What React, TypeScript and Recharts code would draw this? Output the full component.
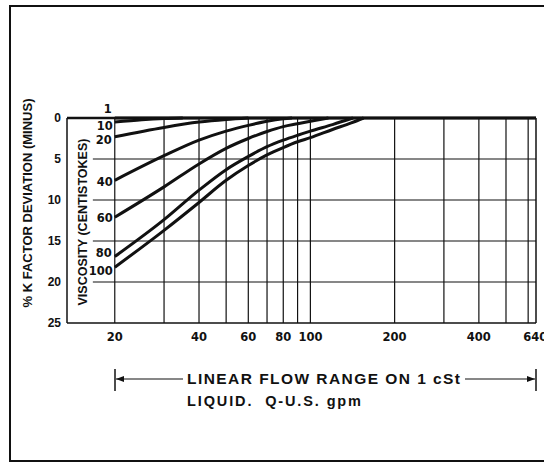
import React from "react";
import { LineChart, Line, XAxis, YAxis, ReferenceLine } from "recharts";

// ---- data ----
const flowTicks = [20, 40, 60, 80, 100, 200, 400, 640];
const flowGrid = [20, 30, 40, 50, 60, 70, 80, 90, 100, 200, 300, 400, 500, 600];
const deviationTicks = [0, 5, 10, 15, 20, 25];
const deviationGrid = [5, 10, 15, 20];

const visc1Flow = [20, 640];
const visc1Dev = [0, 0];
const visc10Flow = [20, 25, 30, 35];
const visc10Dev = [0.5, 0.22, 0.07, 0];
const visc20Flow = [20, 30, 40, 50, 60];
const visc20Dev = [2.3, 1.15, 0.5, 0.18, 0];
const visc40Flow = [20, 30, 40, 50, 60, 70, 80, 86];
const visc40Dev = [7.6, 4.6, 2.7, 1.6, 0.9, 0.4, 0.1, 0];
const visc60Flow = [20, 30, 40, 50, 60, 70, 80, 90, 100, 116];
const visc60Dev = [12.1, 8.4, 5.6, 3.7, 2.5, 1.65, 1.05, 0.7, 0.4, 0];
const visc80Flow = [20, 30, 40, 50, 60, 70, 80, 90, 100, 120, 142];
const visc80Dev = [16.9, 12.4, 8.8, 6.3, 4.7, 3.5, 2.7, 2.1, 1.6, 0.8, 0];
const visc100Flow = [20, 30, 40, 50, 60, 70, 80, 90, 100, 120, 140, 155];
const visc100Dev = [18.2, 13.7, 10.3, 7.6, 5.8, 4.5, 3.6, 2.9, 2.4, 1.4, 0.6, 0];

const seriesNames = ["1", "10", "20", "40", "60", "80", "100"];

const build = (f: number[], d: number[]) => f.map((q, i) => ({ q, dev: d[i] }));

const series = [
  { name: seriesNames[0], data: build(visc1Flow, visc1Dev), dx: -7, dy: -5, anchor: "middle" },
  { name: seriesNames[1], data: build(visc10Flow, visc10Dev), dx: -2, dy: 8, anchor: "end" },
  { name: seriesNames[2], data: build(visc20Flow, visc20Dev), dx: -3, dy: 7.5, anchor: "end" },
  { name: seriesNames[3], data: build(visc40Flow, visc40Dev), dx: -2, dy: 6, anchor: "end" },
  { name: seriesNames[4], data: build(visc60Flow, visc60Dev), dx: -2, dy: 5, anchor: "end" },
  { name: seriesNames[5], data: build(visc80Flow, visc80Dev), dx: -3, dy: 0, anchor: "end" },
  { name: seriesNames[6], data: build(visc100Flow, visc100Dev), dx: -2, dy: 8, anchor: "end" },
];

const INK = "#111";
const labelFont = "'DejaVu Sans', sans-serif";
const sansFont = "'Liberation Sans', Arial, sans-serif";

const makeLabel = (name: string, dx: number, dy: number, anchor: string) => (props: any) => {
  if (props.index !== 0) return null;
  return (
    <text
      key={`lbl-${name}`}
      x={props.x + dx}
      y={props.y + dy}
      textAnchor={anchor as any}
      fontFamily={labelFont}
      fontWeight="bold"
      fontSize={11.5}
      fill={INK}
    >
      {name}
    </text>
  );
};

export default function App() {
  return (
    <div style={{ position: "absolute", left: 0, top: 0, width: 544, height: 463, background: "#fff" }}>
      <LineChart
        width={544}
        height={463}
        margin={{ top: 118, right: 8, bottom: 120, left: 17 }}
      >
        <XAxis
          dataKey="q"
          type="number"
          scale="log"
          domain={[13.5, 640]}
          ticks={flowTicks}
          height={20}
          axisLine={{ stroke: INK, strokeWidth: 1.5 }}
          tickLine={false}
          tickMargin={4}
          tick={{ fill: INK, fontSize: 11.5, fontWeight: "bold", fontFamily: labelFont }}
          allowDuplicatedCategory={false}
        />
        <YAxis
          type="number"
          domain={[0, 25]}
          reversed
          ticks={deviationTicks}
          width={50}
          axisLine={{ stroke: INK, strokeWidth: 1.5 }}
          tickLine={false}
          tickMargin={0}
          tick={{ fill: INK, fontSize: 12, fontWeight: "bold", fontFamily: sansFont }}
        />
        {flowGrid.map((q) => (
          <ReferenceLine key={`vx-${q}`} x={q} stroke={INK} strokeWidth={1.2} />
        ))}
        <ReferenceLine x={640} stroke={INK} strokeWidth={1.5} />
        {deviationGrid.map((d) => (
          <ReferenceLine
            key={`hy-${d}`}
            segment={[{ x: 16.7, y: d }, { x: 640, y: d }]}
            stroke={INK}
            strokeWidth={1.2}
          />
        ))}
        <ReferenceLine y={0} stroke={INK} strokeWidth={2.5} />
        {series.map((s) => (
          <Line
            key={s.name}
            data={s.data}
            dataKey="dev"
            name={s.name}
            type="monotone"
            stroke={INK}
            strokeWidth={3}
            dot={false}
            isAnimationActive={false}
            label={makeLabel(s.name, s.dx, s.dy, s.anchor)}
          />
        ))}
      </LineChart>
      <svg
        width={544}
        height={463}
        style={{ position: "absolute", left: 0, top: 0, pointerEvents: "none" }}
      >
        <rect x={10} y={6} width={560} height={455} fill="none" stroke={INK} strokeWidth={2} />
        <text
          x={32}
          y={203}
          transform="rotate(-90 32 203)"
          textAnchor="middle"
          fontFamily={sansFont}
          fontWeight="bold"
          fontSize={13}
          fill={INK}
        >
          % K FACTOR DEVIATION (MINUS)
        </text>
        <text
          x={87}
          y={222}
          transform="rotate(-90 87 222)"
          textAnchor="middle"
          fontFamily={sansFont}
          fontWeight="bold"
          fontSize={12.5}
          fill={INK}
        >
          VISCOSITY (CENTISTOKES)
        </text>
        <line x1={115} y1={369} x2={115} y2={391} stroke={INK} strokeWidth={1.5} />
        <line x1={536} y1={369} x2={536} y2={391} stroke={INK} strokeWidth={1.5} />
        <line x1={116} y1={379} x2={183} y2={379} stroke={INK} strokeWidth={1.2} />
        <line x1={465} y1={379} x2={535} y2={379} stroke={INK} strokeWidth={1.2} />
        <polygon points="116,379 124,376 124,382" fill={INK} />
        <polygon points="535,379 527,376 527,382" fill={INK} />
        <text
          x={187}
          y={384}
          fontFamily={sansFont}
          fontWeight="bold"
          fontSize={15.5}
          fill={INK}
          textLength={273}
          lengthAdjust="spacing"
        >
          LINEAR FLOW RANGE ON 1 cSt
        </text>
        <text
          x={187}
          y={406}
          fontFamily={sansFont}
          fontWeight="bold"
          fontSize={14.5}
          fill={INK}
          textLength={174}
          lengthAdjust="spacing"
          style={{ whiteSpace: "pre" }}
        >
          {"LIQUID.  Q-U.S. gpm"}
        </text>
      </svg>
    </div>
  );
}
